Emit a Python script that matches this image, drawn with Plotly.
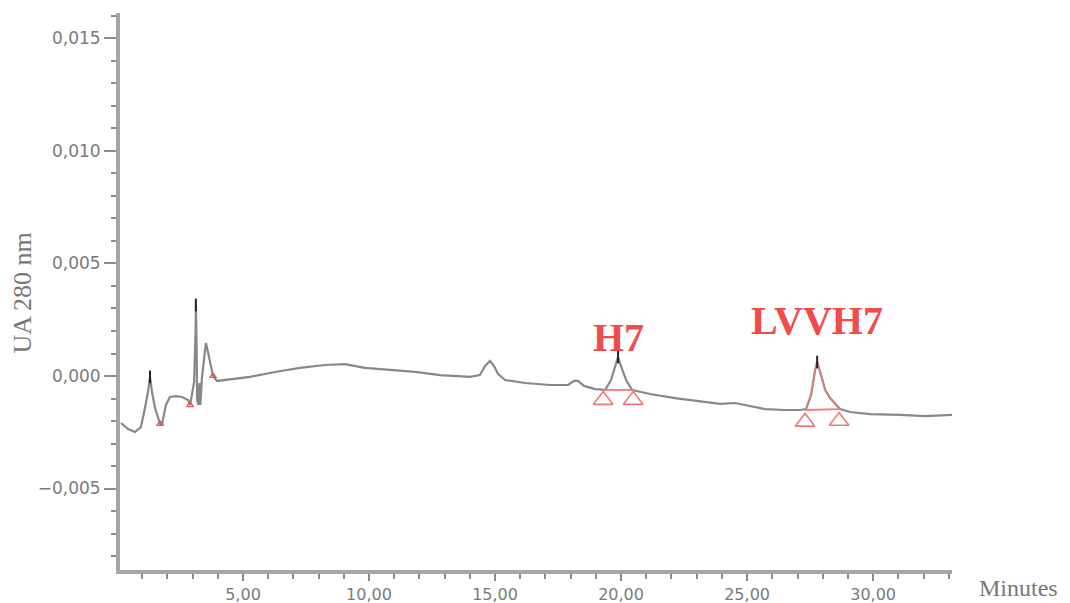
import plotly.graph_objects as go

# ---- data ----
time_min = [0.16, 0.44, 0.71, 0.95, 1.11, 1.23, 1.31, 1.39, 1.51, 1.71, 1.79, 1.94, 2.10, 2.34,
            2.58, 2.82, 2.90, 2.98, 3.06, 3.12, 3.13, 3.16, 3.18, 3.23, 3.27, 3.31, 3.37, 3.45,
            3.53, 3.61, 3.69, 3.81, 3.97, 4.29, 5.28, 6.27, 7.26, 8.25, 9.05, 9.84, 10.83, 11.83,
            12.82, 14.01, 14.40, 14.60, 14.80, 14.96, 15.12, 15.40, 16.19, 17.18, 17.90, 18.13,
            18.29, 18.53, 18.97, 19.37, 19.60, 19.76, 19.88, 20.00, 20.20, 20.44, 21.15, 22.14,
            23.13, 23.93, 24.52, 24.92, 25.71, 26.51, 27.10, 27.34, 27.54, 27.70, 27.78, 27.90,
            28.10, 28.29, 28.49, 28.69, 29.09, 29.88, 31.07, 32.06, 33.13]
absorbance = [-0.00209, -0.00236, -0.00249, -0.00227, -0.00142, -0.00071, -0.00004, -0.00071,
              -0.00142, -0.00213, -0.00213, -0.00129, -0.00093, -0.00089, -0.00093, -0.00107,
              -0.00129, -0.00071, -0.00027, 0.00204, 0.00316, 0.00138, -0.00107, -0.00129,
              -0.00031, -0.00129, -0.00009, 0.00071, 0.00147, 0.00107, 0.00062, 0.00000,
              -0.00022, -0.00018, -0.00004, 0.00018, 0.00036, 0.00049, 0.00053, 0.00036,
              0.00027, 0.00018, 0.00004, -0.00004, 0.00004, 0.00044, 0.00067, 0.00044,
              0.00009, -0.00018, -0.00031, -0.00040, -0.00040, -0.00022, -0.00022, -0.00044,
              -0.00058, -0.00062, -0.00018, 0.00044, 0.00084, 0.00044, -0.00018, -0.00062,
              -0.00080, -0.00098, -0.00111, -0.00124, -0.00120, -0.00129, -0.00147, -0.00151,
              -0.00151, -0.00147, -0.00084, 0.00027, 0.00062, 0.00018, -0.00062, -0.00098,
              -0.00124, -0.00147, -0.00160, -0.00169, -0.00173, -0.00178, -0.00173]

# integrated peaks
peak_names = ["H7", "LVVH7"]
peak_apex_t = [19.88, 27.78]
peak_apex_v = [0.00084, 0.00062]
peak_start_t = [19.29, 27.30]
peak_end_t = [20.55, 28.69]
baseline_start_v = [-0.00062, -0.00151]
baseline_end_v = [-0.00062, -0.00147]
marker_tri_t = [19.29, 20.48, 27.30, 28.65]
marker_tri_v = [-0.00107, -0.00107, -0.00204, -0.00200]

# small integration marks on the early peaks
early_mark_t = [1.71, 2.90, 3.81]
early_mark_v = [-0.00213, -0.00129, 0.00000]
apex_tick_t = [1.31, 3.13, 19.88, 27.78]
apex_tick_v = [-0.00004, 0.00316, 0.00084, 0.00062]

RED = "#f24b4b"
LIGHT_RED = "#f27a7a"
GRAY = "#888888"

fig = go.Figure()

fig.add_trace(go.Scatter(x=time_min, y=absorbance, mode="lines",
                         line=dict(color=GRAY, width=2.2), hoverinfo="skip"))

# red outline of LVVH7 peak
lv_t = [t for t in time_min if peak_start_t[1] <= t <= peak_end_t[1]]
lv_v = [v for t, v in zip(time_min, absorbance) if peak_start_t[1] <= t <= peak_end_t[1]]
fig.add_trace(go.Scatter(x=lv_t, y=lv_v, mode="lines",
                         line=dict(color=LIGHT_RED, width=1.5), opacity=0.85, hoverinfo="skip"))

# baselines
for i in range(len(peak_names)):
    fig.add_trace(go.Scatter(x=[peak_start_t[i], peak_end_t[i]],
                             y=[baseline_start_v[i], baseline_end_v[i]],
                             mode="lines", line=dict(color=LIGHT_RED, width=1.8),
                             hoverinfo="skip"))

fig.add_trace(go.Scatter(x=marker_tri_t, y=marker_tri_v, mode="markers",
                         marker=dict(symbol="triangle-up-open", size=17,
                                     color=LIGHT_RED, line=dict(width=1.6, color=LIGHT_RED)),
                         hoverinfo="skip"))
fig.add_trace(go.Scatter(x=early_mark_t, y=early_mark_v, mode="markers",
                         marker=dict(symbol="triangle-up-open", size=6,
                                     color=RED, line=dict(width=1.2, color=RED)),
                         hoverinfo="skip"))
fig.add_trace(go.Scatter(x=apex_tick_t, y=apex_tick_v, mode="markers",
                         marker=dict(symbol="line-ns-open", size=9, color="#222222",
                                     line=dict(width=2, color="#222222")),
                         hoverinfo="skip"))

label_shift = [20, 42]
for i, name in enumerate(peak_names):
    fig.add_annotation(x=peak_apex_t[i], y=peak_apex_v[i], xref="x", yref="y",
                       text="<b>%s</b>" % name, showarrow=False, yanchor="middle",
                       xanchor="center", yshift=label_shift[i],
                       font=dict(family="Liberation Serif", size=40, color=RED))

fig.add_annotation(xref="paper", yref="paper", x=0, y=0.5, xshift=-98, yshift=-2,
                   xanchor="center", yanchor="middle",
                   text="UA 280 nm", textangle=-90, showarrow=False,
                   font=dict(family="Liberation Serif", size=26, color="#777777"))
fig.add_annotation(xref="paper", yref="paper", x=1, y=0, xshift=66, yshift=-18,
                   xanchor="center", yanchor="middle",
                   text="Minutes", showarrow=False,
                   font=dict(family="Liberation Serif", size=24, color="#777777"))

axis_common = dict(showgrid=False, zeroline=False, showline=True, linewidth=4,
                   linecolor="#a6a6a6", ticks="outside", tickcolor="#8c8c8c",
                   tickwidth=2, automargin=False)

fig.update_xaxes(range=[0.12, 33.13], tick0=0, dtick=5, tickformat=".2f", ticklen=7,
                 tickfont=dict(family="DejaVu Sans", size=16, color="#7a7a7a"),
                 minor=dict(dtick=1, ticklen=5, tickwidth=2, tickcolor="#8c8c8c", ticks="outside"),
                 **axis_common)
fig.update_yaxes(range=[-0.00862, 0.01613], tick0=0, dtick=0.005, tickformat=".3f", ticklen=12,
                 tickfont=dict(family="DejaVu Sans", size=17, color="#7a7a7a"),
                 minor=dict(dtick=0.001, ticklen=5, tickwidth=2, tickcolor="#8c8c8c", ticks="outside"),
                 **axis_common)

# page body adds an 8px offset, so the figure is sized to fit the window
fig.update_layout(width=1062, height=595, showlegend=False, separators=",.",
                  plot_bgcolor="white", paper_bgcolor="white",
                  margin=dict(l=112, r=118, t=5, b=33))

fig.write_html("out.html")
